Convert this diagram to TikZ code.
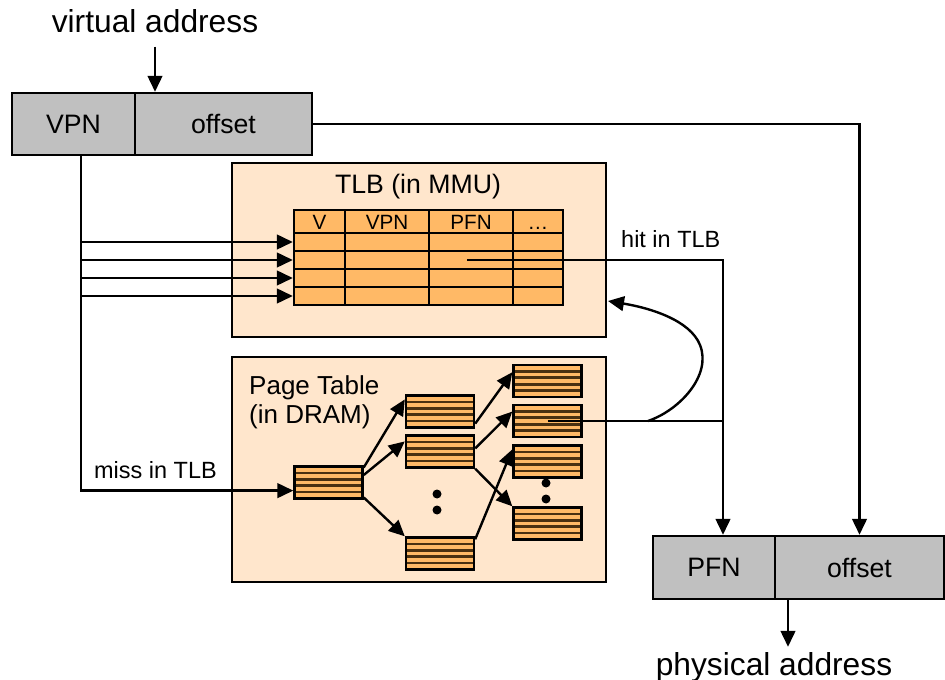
\documentclass[tikz,border=0pt]{standalone}
\usepackage{fontspec}
\setmainfont{Liberation Sans}
\usetikzlibrary{arrows.meta,calc}
\definecolor{boxgray}{HTML}{C0C0C0}
\definecolor{peach}{HTML}{FFE6CC}
\definecolor{tblorange}{HTML}{FFB966}
\definecolor{stripedark}{HTML}{4A3010}
\begin{document}
\begin{tikzpicture}[x=0.75pt,y=-0.75pt,line width=1.8pt,
  arr/.style={-{Triangle[length=12pt,width=11pt]}},
  graybox/.style={draw, fill=boxgray, inner sep=0, minimum height=46.5pt, font=\fontsize{20}{24}\selectfont},
  panel/.style={draw, fill=peach, inner sep=0, minimum width=280.5pt},
  tlbrow/.style={draw, fill=tblorange, inner sep=0, minimum width=201.75pt, minimum height=13.5pt},
  bigtext/.style={font=\fontsize{23.8}{28}\selectfont, inner sep=0},
  notetext/.style={font=\fontsize{17.6}{21}\selectfont, inner sep=0},
  hdrtext/.style={font=\fontsize{15.5}{18}\selectfont, inner sep=0},
  stripe/.style={draw=stripedark, line width=2pt},
  pblock/.style={draw, fill=tblorange, inner sep=0, minimum width=51pt, minimum height=24pt,
    path picture={\foreach \i in {1,...,4}{\draw[stripe]
      ($(path picture bounding box.north west)!\i/5!(path picture bounding box.south west)$) --
      ($(path picture bounding box.north east)!\i/5!(path picture bounding box.south east)$);}}}
]
\useasboundingbox (0,0) rectangle (945,680);

% virtual address
\node[bigtext, anchor=base] (va) at (155,33) {virtual address};
\node[graybox, minimum width=92.25pt] (vpn) at (73.5,124) {VPN};
\node[graybox, minimum width=132.75pt] (voff) at (223.5,124) {offset};

% panels
\node[panel, minimum height=130.5pt] (tlb) at (419,250) {};
\node[panel, minimum height=168.75pt] (ptab) at (419,469.5) {};

% TLB title and table
\node[font=\fontsize{20}{24}\selectfont, inner sep=0, anchor=base] (tlbt) at (418,194) {TLB (in MMU)};
\node[tlbrow, minimum height=17.25pt] (thead) at (428.5,221.5) {};
\node[tlbrow] (r1) at (428.5,242) {};
\node[tlbrow] (r2) at (428.5,260) {};
\node[tlbrow] (r3) at (428.5,278) {};
\node[tlbrow] (r4) at (428.5,296) {};
\foreach \cx in {345,429,513} \draw (\cx,210) -- (\cx,305);
\node[hdrtext, anchor=base] (hv) at (319.5,230) {V};
\node[hdrtext, anchor=base] (hvpn) at (387,230) {VPN};
\node[hdrtext, anchor=base] (hpfn) at (471,230) {PFN};
\node[hdrtext, anchor=base] (hdots) at (538,230) {…};

% Page table
\node[font=\fontsize{19.5}{21.75}\selectfont, inner sep=0, anchor=north west, align=left] (ptt) at (248,374) {Page Table\\(in DRAM)};
\node[pblock] (p0) at (328.5,482.5) {};
\node[pblock] (p1a) at (440,411.5) {};
\node[pblock] (p1b) at (440,451.5) {};
\node[pblock] (p1c) at (440,553.5) {};
\node[pblock] (p2a) at (547.5,381) {};
\node[pblock] (p2b) at (547.5,421) {};
\node[pblock] (p2c) at (547.5,461.5) {};
\node[pblock] (p2d) at (547.5,523.5) {};
\fill (437,494) circle (4.5);
\fill (437,510) circle (4.5);
\fill (546,483) circle (4.5);
\fill (546,499) circle (4.5);

\draw[arr] (p0.23) -- (p1a.161);
\draw[arr] (p0.12) -- (p1b.164);
\draw[arr] (p0.-23) -- (p1c.north west);
\draw[arr] (p1a.-19) -- (p2a.166);
\draw[arr] (p1b.5) -- (p2b.165);
\draw[arr] (p1b.south east) -- (p2d.north west);
\draw[arr] (p1c.22) -- (p2c.161);

% physical address
\node[graybox, minimum width=91.5pt, minimum height=47.25pt] (pfn) at (714,567.5) {PFN};
\node[graybox, minimum width=126.75pt, minimum height=47.25pt] (poff) at (859.5,567.5) {offset};
\node[bigtext, anchor=base] (pa) at (774,675) {physical address};

% labels
\node[notetext, anchor=base west] (miss) at (93,478) {miss in TLB};
\node[notetext, anchor=base west] (hit) at (620,248) {hit in TLB};

% connectors
\draw[arr] ([yshift=-9pt]va.south) -- (va.south |- voff.north);
\coordinate (vx) at (81,0);
\draw (vpn.south -| vx) -- (vx |- r4.west);
\foreach \r in {r1,r2,r3,r4} \draw[arr] (vx |- \r.west) -- (\r.west);
\draw[arr] (vx |- r4.west) -- (vx |- p0.193) -- (p0.193);
\draw[arr] (voff.east) -| (poff.north);
\coordinate (hs) at (467,260);
\coordinate (hx) at (723,0);
\draw[arr] (hs) -- (hs -| hx) -- (hx |- pfn.north);
\draw (p2b.center) -- (p2b.center -| hx);
\coordinate (cs) at (648,421);
\coordinate (ce) at (608,301);
\draw[arr] (cs) .. controls (680,410) and (712,375) .. (700,345) .. controls (690,320) and (650,308) .. (ce);
\coordinate (px) at (788,0);
\draw[arr] (poff.south -| px) -- ($(px |- pa.north)+(0,-4)$);
\end{tikzpicture}
\end{document}
